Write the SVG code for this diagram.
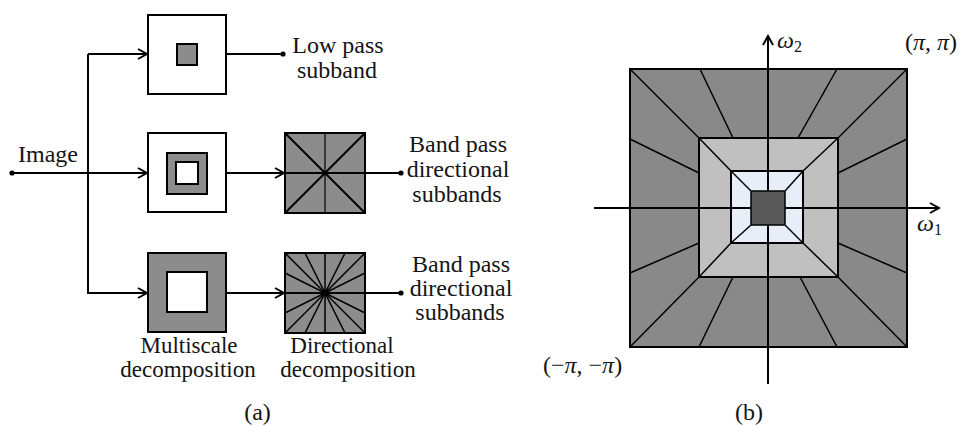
<svg xmlns="http://www.w3.org/2000/svg" width="961" height="426" viewBox="0 0 961 426" font-family="'Liberation Serif', 'DejaVu Serif', serif">
<style>
text{font-family:"Liberation Serif","DejaVu Serif",serif;font-size:24px;fill:#141414}
.m{text-anchor:middle}
.it{font-style:italic}
.ln{stroke:#000;stroke-width:2;fill:none}
.thin{stroke:#000;stroke-width:1.5;fill:none}
.box{stroke:#000;stroke-width:2}
.ga{fill:#8c8c8c}
.wh{fill:#fff}
.sm{font-size:23px}
</style>
<defs>
<marker id="arr" viewBox="0 0 12 12" refX="10" refY="6" markerWidth="12" markerHeight="12" markerUnits="userSpaceOnUse" orient="auto">
<path d="M1,1 L10,6 L1,11" fill="none" stroke="#000" stroke-width="2"/>
</marker>
</defs>
<rect width="961" height="426" fill="#fff"/>

<!-- Panel (a) -->
<g id="connectors">
<path class="ln" d="M12,173 H147" marker-end="url(#arr)"/>
<path class="ln" d="M88,54 H147" marker-end="url(#arr)"/>
<path class="ln" d="M88,54 V293 H147" marker-end="url(#arr)"/>
<path class="ln" d="M226,54 H283"/>
<path class="ln" d="M226,173 H284" marker-end="url(#arr)"/>
<path class="ln" d="M226,293 H284" marker-end="url(#arr)"/>
<circle cx="12" cy="173" r="2.6"/>
<circle cx="283" cy="54" r="2.6"/>
</g>

<g id="image-input">
<text x="18" y="162">Image</text>
</g>

<g id="ms-lowpass">
<rect class="box wh" x="148" y="15" width="78" height="79"/>
<rect class="box ga" x="177" y="44" width="20" height="21"/>
</g>

<g id="ms-bandpass1">
<rect class="box wh" x="148" y="133" width="78" height="79"/>
<rect class="box ga" x="167" y="153" width="40" height="41"/>
<rect class="box wh" x="176" y="162" width="22" height="22"/>
</g>

<g id="ms-bandpass2">
<rect class="box ga" x="148" y="253" width="78" height="79"/>
<rect class="box wh" x="167" y="272" width="40" height="40"/>
</g>

<g id="dir-1">
<rect class="box ga" x="285" y="133" width="80" height="80"/>
<line x1="325" y1="133" x2="325" y2="213" stroke="#000" stroke-width="1.2"/>
<line class="ln" x1="285" y1="133" x2="365" y2="213"/>
<line class="ln" x1="365" y1="133" x2="285" y2="213"/>
<path class="ln" d="M285,173 H401"/>
<circle cx="325" cy="173" r="2.2"/>
<circle cx="401" cy="173" r="2.6"/>
</g>

<g id="dir-2">
<rect class="box ga" x="285" y="253" width="80" height="80"/>
<g class="thin">
<line x1="325" y1="293" x2="285" y2="253"/>
<line x1="325" y1="293" x2="305" y2="253"/>
<line x1="325" y1="293" x2="325" y2="253"/>
<line x1="325" y1="293" x2="345" y2="253"/>
<line x1="325" y1="293" x2="365" y2="253"/>
<line x1="325" y1="293" x2="365" y2="273"/>
<line x1="325" y1="293" x2="365" y2="313"/>
<line x1="325" y1="293" x2="365" y2="333"/>
<line x1="325" y1="293" x2="345" y2="333"/>
<line x1="325" y1="293" x2="325" y2="333"/>
<line x1="325" y1="293" x2="305" y2="333"/>
<line x1="325" y1="293" x2="285" y2="333"/>
<line x1="325" y1="293" x2="285" y2="313"/>
<line x1="325" y1="293" x2="285" y2="273"/>
</g>
<path class="ln" d="M285,293 H401"/>
<circle cx="325" cy="293" r="3"/>
<circle cx="401" cy="293" r="2.6"/>
</g>

<g id="label-lowpass">
<text class="m" x="338" y="53">Low pass</text>
<text class="m" x="337" y="78">subband</text>
</g>
<g id="label-bandpass1">
<text class="m" x="458" y="152">Band pass</text>
<text class="m" x="458" y="177">directional</text>
<text class="m" x="457" y="202">subbands</text>
</g>
<g id="label-bandpass2">
<text class="m" x="461" y="272">Band pass</text>
<text class="m" x="461" y="296">directional</text>
<text class="m" x="460" y="320">subbands</text>
</g>
<g id="label-multiscale">
<text class="m sm" x="189" y="353">Multiscale</text>
<text class="m sm" x="188" y="377">decomposition</text>
</g>
<g id="label-directional">
<text class="m sm" x="342" y="353">Directional</text>
<text class="m sm" x="348" y="377">decomposition</text>
</g>
<text class="m" x="257.5" y="420">(a)</text>

<!-- Panel (b) -->
<g id="freq-plane">
<rect x="630" y="69" width="277" height="278" fill="#898989" stroke="#000" stroke-width="2"/>
<g class="thin">
<line x1="630" y1="69" x2="699" y2="138"/>
<line x1="907" y1="69" x2="838" y2="138"/>
<line x1="630" y1="347" x2="699" y2="277"/>
<line x1="907" y1="347" x2="838" y2="277"/>
<line x1="700" y1="69" x2="733" y2="138"/>
<line x1="837" y1="69" x2="798" y2="138"/>
<line x1="699" y1="347" x2="733" y2="277"/>
<line x1="837" y1="347" x2="800" y2="277"/>
<line x1="630" y1="139" x2="699" y2="173"/>
<line x1="630" y1="273" x2="699" y2="243"/>
<line x1="907" y1="139" x2="838" y2="173"/>
<line x1="907" y1="273" x2="838" y2="243"/>
</g>
<rect x="699" y="138" width="139" height="139" fill="#c0c0c0" stroke="#000" stroke-width="2"/>
<g class="thin">
<line x1="699" y1="138" x2="731" y2="171"/>
<line x1="838" y1="138" x2="803" y2="171"/>
<line x1="699" y1="277" x2="731" y2="243"/>
<line x1="838" y1="277" x2="803" y2="243"/>
</g>
<rect x="731" y="171" width="72" height="72" fill="#e8eef8" stroke="#000" stroke-width="2"/>
<g class="thin">
<line x1="731" y1="171" x2="751" y2="191"/>
<line x1="803" y1="171" x2="785" y2="191"/>
<line x1="731" y1="243" x2="751" y2="225"/>
<line x1="803" y1="243" x2="785" y2="225"/>
</g>
</g>
<g id="axes">
<path class="ln" d="M768,384 V36" marker-end="url(#arr)"/>
<path class="ln" d="M594,208 H939" marker-end="url(#arr)"/>
</g>
<g id="lowpass-square">
<rect x="751" y="191" width="34" height="34" fill="#595959" stroke="#000" stroke-width="1.5"/>
</g>
<g id="axis-labels">
<text x="777" y="48"><tspan class="it">ω</tspan><tspan font-size="16" dy="4">2</tspan></text>
<text x="917" y="231"><tspan class="it">ω</tspan><tspan font-size="16" dy="4">1</tspan></text>
<text x="905" y="50">(<tspan class="it">π</tspan>, <tspan class="it">π</tspan>)</text>
<text x="543" y="373">(−<tspan class="it">π</tspan>, −<tspan class="it">π</tspan>)</text>
</g>
<text class="m" x="749" y="420">(b)</text>
</svg>
